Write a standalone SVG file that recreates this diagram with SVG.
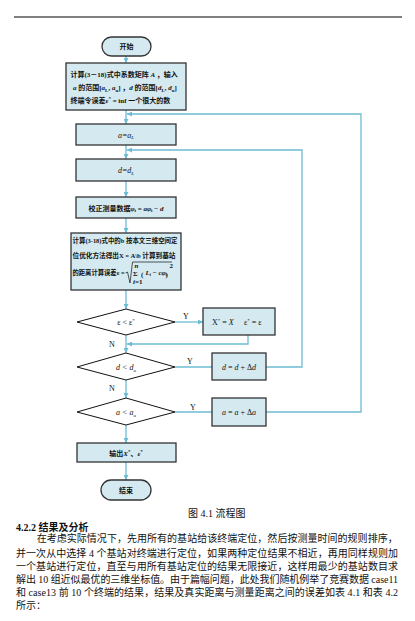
<svg xmlns="http://www.w3.org/2000/svg" width="415" height="621" viewBox="0 0 415 621">
<style>
  .box{fill:#d4e9f0;stroke:#333;stroke-width:1.3}
  .dia{fill:#fff;stroke:#111;stroke-width:1}
  .term{fill:#d4e9f0;stroke:#333;stroke-width:1.3}
  .c{fill:none;stroke:#6cbcd4;stroke-width:1.3}
  .t{font-family:"Liberation Serif","Noto Sans CJK SC",serif;font-size:7px;font-weight:bold;fill:#111}
  .m{font-family:"Liberation Serif","Noto Sans CJK SC",serif;font-size:8px;font-style:italic;fill:#111}
  .lab{font-family:"Liberation Serif",serif;font-size:8px;fill:#111}
  .body{font-family:"Liberation Serif","Noto Sans CJK SC",serif;font-size:10px;fill:#111}
  .sub{font-size:5px}
</style>
<defs>
  <marker id="ar" viewBox="0 0 10 10" refX="10" refY="5" markerWidth="5" markerHeight="5" orient="auto" markerUnits="userSpaceOnUse">
    <path d="M0,0 L10,5 L0,10 z" fill="#6cbcd4"/>
  </marker>
</defs>
<line x1="14" y1="17" x2="402" y2="17" stroke="#000" stroke-width="1"/>

<g id="connectors">
  <line class="c" x1="126" y1="56" x2="126" y2="63" marker-end="url(#ar)"/>
  <line class="c" x1="126" y1="110" x2="126" y2="124" marker-end="url(#ar)"/>
  <polyline class="c" points="266,412 361,412 361,114 127,114" marker-end="url(#ar)"/>
  <line class="c" x1="126" y1="145" x2="126" y2="159" marker-end="url(#ar)"/>
  <polyline class="c" points="266,367 302,367 302,150 127,150" marker-end="url(#ar)"/>
  <line class="c" x1="126" y1="181" x2="126" y2="197" marker-end="url(#ar)"/>
  <line class="c" x1="126" y1="218" x2="126" y2="233" marker-end="url(#ar)"/>
  <line class="c" x1="126" y1="290" x2="126" y2="309" marker-end="url(#ar)"/>
  <line class="c" x1="175" y1="322" x2="203" y2="322" marker-end="url(#ar)"/>
  <polyline class="c" points="248,335 248,344 127,344" marker-end="url(#ar)"/>
  <line class="c" x1="126" y1="335" x2="126" y2="353" marker-end="url(#ar)"/>
  <line class="c" x1="175" y1="367" x2="212" y2="367"/>
  <line class="c" x1="126" y1="380" x2="126" y2="398" marker-end="url(#ar)"/>
  <line class="c" x1="175" y1="412" x2="212" y2="412"/>
  <line class="c" x1="126" y1="425" x2="126" y2="443" marker-end="url(#ar)"/>
  <line class="c" x1="126" y1="462" x2="126" y2="480" marker-end="url(#ar)"/>
  <text class="lab" x="186" y="319" text-anchor="middle">Y</text>
  <text class="lab" x="112" y="347" text-anchor="middle">N</text>
  <text class="lab" x="190" y="364" text-anchor="middle">Y</text>
  <text class="lab" x="112" y="391" text-anchor="middle">N</text>
  <text class="lab" x="193" y="410" text-anchor="middle">Y</text>
</g>

<g id="start">
  <rect class="term" x="102" y="37" width="49" height="19" rx="9.5"/>
  <text class="t" x="126.5" y="49" text-anchor="middle">开始</text>
</g>

<g id="init">
  <rect class="box" x="66" y="63" width="120" height="47"/>
  <text class="t" x="70.5" y="76.5">计算(3－18)式中系数矩阵 <tspan font-style="italic">A</tspan> ，输入</text>
  <text class="t" x="73" y="90"><tspan font-style="italic">a</tspan> 的范围[<tspan font-style="italic">a</tspan><tspan class="sub" dy="1.5">L</tspan><tspan dy="-1.5">, </tspan><tspan font-style="italic">a</tspan><tspan class="sub" dy="1.5">u</tspan><tspan dy="-1.5">] ，</tspan><tspan font-style="italic">d</tspan> 的范围[<tspan font-style="italic">d</tspan><tspan class="sub" dy="1.5">L</tspan><tspan dy="-1.5">, </tspan><tspan font-style="italic">d</tspan><tspan class="sub" dy="1.5">u</tspan><tspan dy="-1.5">]</tspan></text>
  <text class="t" x="70.5" y="102.5">终端令误差<tspan font-style="italic">ε</tspan><tspan class="sub" dy="-2.5">*</tspan><tspan dy="2.5"> = inf  一个很大的数</tspan></text>
</g>

<g id="setA">
  <rect class="box" x="76" y="124" width="100" height="21"/>
  <text class="m" x="126" y="137.5" text-anchor="middle">a=a<tspan class="sub" dy="1.5">L</tspan></text>
</g>

<g id="setD">
  <rect class="box" x="76" y="159" width="100" height="22"/>
  <text class="m" x="126" y="173" text-anchor="middle">d=d<tspan class="sub" dy="1.5">L</tspan></text>
</g>

<g id="correct">
  <rect class="box" x="76" y="197" width="100" height="21"/>
  <text class="t" x="126" y="210.5" text-anchor="middle">校正测量数据<tspan font-style="italic">φ</tspan><tspan class="sub" dy="1.5">i</tspan><tspan dy="-1.5"> = </tspan><tspan font-style="italic">aφ</tspan><tspan class="sub" dy="1.5">i</tspan><tspan dy="-1.5"> − </tspan><tspan font-style="italic">d</tspan></text>
</g>

<g id="compute">
  <rect class="box" x="71" y="233" width="110" height="57"/>
  <text class="t" x="72.5" y="243" font-size="6.3px" textLength="105" lengthAdjust="spacingAndGlyphs">计算(3-18)式中的b 按本文三维空间定</text>
  <text class="t" x="72.5" y="257.5" font-size="6.3px" textLength="103" lengthAdjust="spacingAndGlyphs">位优化方法得出X = A\b 计算到基站</text>
  <text class="t" x="72.5" y="275" font-size="6.3px" textLength="52" lengthAdjust="spacingAndGlyphs">的距离计算误差ε =</text>
  <polyline points="125.5,273 127.5,272 130,283 132.5,262 172,262" fill="none" stroke="#111" stroke-width="0.7"/>
  <text class="t" x="133" y="275.5" font-size="7.5px" font-weight="normal">Σ</text>
  <text class="t" x="134.5" y="267.5" font-size="4px" font-style="italic">n</text>
  <text class="t" x="133" y="283.5" font-size="4px"><tspan font-style="italic">i</tspan>=1</text>
  <text class="t" x="141" y="276.5" font-size="9px" font-weight="normal">(</text>
  <text class="t" x="145.5" y="275" font-size="6px"><tspan font-style="italic">L</tspan><tspan font-size="4px" dy="1.2">i</tspan><tspan dy="-1.2"> − </tspan><tspan font-style="italic">cφ</tspan><tspan font-size="4px" dy="1.2">i</tspan></text>
  <text class="t" x="165.5" y="276.5" font-size="9px" font-weight="normal">)</text>
  <text class="t" x="169.5" y="268" font-size="4.5px">2</text>
</g>

<g id="dec1">
  <polygon class="dia" points="77,322 126,309 175,322 126,335"/>
  <text class="lab" x="126" y="325" text-anchor="middle">ε &lt; ε<tspan class="sub" dy="-3">*</tspan></text>
</g>

<g id="update">
  <rect class="box" x="203" y="308" width="72" height="27"/>
  <text class="lab" x="212" y="325" font-size="7px">X<tspan class="sub" dy="-3">*</tspan><tspan dy="3"> = </tspan><tspan font-style="italic">X</tspan></text>
  <text class="lab" x="244" y="325" font-size="7px">ε<tspan class="sub" dy="-3">*</tspan><tspan dy="3"> = ε</tspan></text>
</g>

<g id="dec2">
  <polygon class="dia" points="77,367 126,353 175,367 126,380"/>
  <text class="m" x="126" y="370" text-anchor="middle">d &lt; d<tspan class="sub" dy="1.5">u</tspan></text>
</g>

<g id="incD">
  <rect class="box" x="212" y="353" width="54" height="27"/>
  <text class="m" x="239" y="370" text-anchor="middle">d <tspan font-style="normal">=</tspan> d <tspan font-style="normal">+ Δ</tspan>d</text>
</g>

<g id="dec3">
  <polygon class="dia" points="77,412 126,398 175,412 126,425"/>
  <text class="m" x="126" y="415" text-anchor="middle">a &lt; a<tspan class="sub" dy="1.5">u</tspan></text>
</g>

<g id="incA">
  <rect class="box" x="212" y="398" width="54" height="28"/>
  <text class="m" x="239" y="415" text-anchor="middle">a <tspan font-style="normal">=</tspan> a <tspan font-style="normal">+ Δ</tspan>a</text>
</g>

<g id="output">
  <rect class="box" x="77" y="443" width="99" height="19"/>
  <text class="t" x="126" y="455.5" text-anchor="middle">输出<tspan font-style="italic">X</tspan><tspan class="sub" dy="-2.5">*</tspan><tspan dy="2.5">、</tspan><tspan font-style="italic">ε</tspan><tspan class="sub" dy="-2.5">*</tspan></text>
</g>

<g id="end">
  <rect class="term" x="101" y="480" width="50" height="20" rx="10"/>
  <text class="t" x="126" y="493" text-anchor="middle">结束</text>
</g>

<text class="body" x="188" y="517" font-size="9px">图 4.1  流程图</text>
<text class="body" x="16" y="530.5" font-weight="bold">4.2.2 结果及分析</text>
<text class="body" x="36.7" y="542" textLength="361" lengthAdjust="spacing">在考虑实际情况下，先用所有的基站给该终端定位，然后按测量时间的规则排序，</text>
<text class="body" x="16" y="557" textLength="382" lengthAdjust="spacing">并一次从中选择 4 个基站对终端进行定位，如果两种定位结果不相近，再用同样规则加</text>
<text class="body" x="16" y="570" textLength="382" lengthAdjust="spacing">一个基站进行定位，直至与用所有基站定位的结果无限接近，这样用最少的基站数目求</text>
<text class="body" x="16" y="582.5" textLength="382" lengthAdjust="spacing">解出 10 组近似最优的三维坐标值。由于篇幅问题，此处我们随机例举了竞赛数据 case11</text>
<text class="body" x="16" y="596" textLength="382" lengthAdjust="spacing">和 case13 前 10 个终端的结果，结果及真实距离与测量距离之间的误差如表 4.1 和表 4.2</text>
<text class="body" x="16" y="608.5">所示：</text>
</svg>
